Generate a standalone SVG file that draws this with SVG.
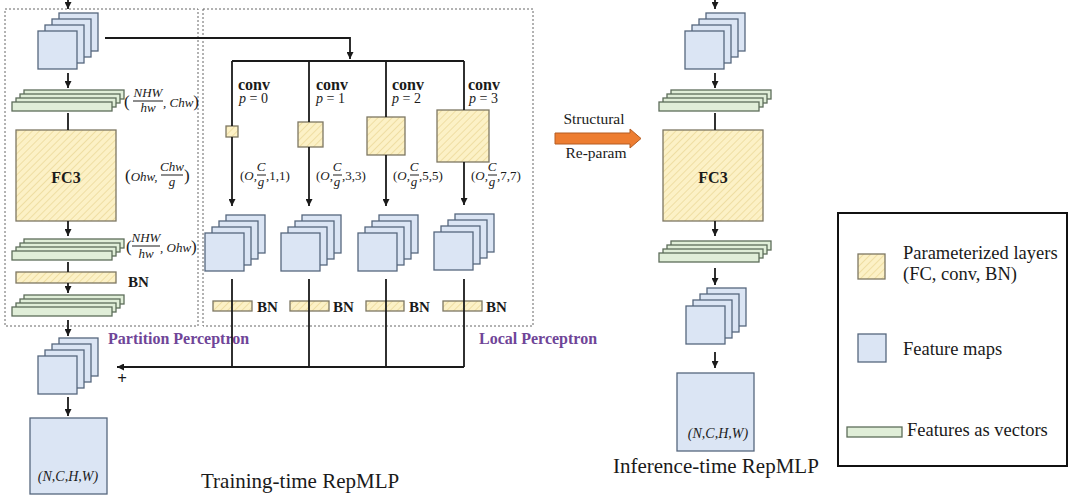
<svg xmlns="http://www.w3.org/2000/svg" width="1080" height="495" viewBox="0 0 1080 495">
<style>
text{font-family:"Liberation Serif","Times New Roman",serif;fill:#1a1a1a}
.b{font-weight:bold}
.m{font-style:italic;font-size:13px}
.up{font-style:normal}
.par{font-size:17px;font-style:normal}
.conv{font-weight:bold;font-size:16px}
.pk{font-size:14px}
.bn{font-weight:bold;font-size:15px}
.perc{font-weight:bold;font-size:16px;fill:#6f4598}
.title{font-size:21px}
.leg{font-size:18.5px}
.fm{fill:#dbe5f4;stroke:#56677e;stroke-width:1.3}
.vec{fill:#e0eed8;stroke:#5d6d5a;stroke-width:1.3}
.par-l{fill:url(#hatch);stroke:#7d7763;stroke-width:1.3}
.dash{fill:none;stroke:#666;stroke-width:1;stroke-dasharray:2,2}
.ln{fill:none;stroke:#1a1a1a;stroke-width:1.8}
.fr{stroke:#1a1a1a;stroke-width:1}
</style>
<defs>
<pattern id="hatch" patternUnits="userSpaceOnUse" width="5" height="5" patternTransform="rotate(45)">
<rect width="5" height="5" fill="#fcf1c6"/>
<line x1="0" y1="0" x2="0" y2="5" stroke="#ecd99a" stroke-width="1.6"/>
</pattern>
<marker id="ah" markerUnits="userSpaceOnUse" markerWidth="8" markerHeight="7" refX="7" refY="3.5" orient="auto">
<path d="M0,0 L7,3.5 L0,7 Z" fill="#1a1a1a"/>
</marker>
<g id="fmstack">
<rect class="fm" x="21" y="-18" width="39" height="38"/>
<rect class="fm" x="14" y="-12" width="39" height="38"/>
<rect class="fm" x="7" y="-6" width="39" height="38"/>
<rect class="fm" x="0" y="0" width="39" height="38"/>
</g>
<g id="vecstack">
<rect class="vec" x="12" y="-12" width="100" height="9"/>
<rect class="vec" x="8" y="-8" width="100" height="9"/>
<rect class="vec" x="4" y="-4" width="100" height="9"/>
<rect class="vec" x="0" y="0" width="100" height="9"/>
</g>
</defs>
<rect width="1080" height="495" fill="#ffffff"/>

<g id="partition-box"><rect class="dash" x="5" y="9" width="193" height="317"/></g>
<g id="local-box"><rect class="dash" x="203" y="9" width="330" height="317"/></g>

<!-- Training-time left column -->
<g id="input-maps"><use href="#fmstack" x="38" y="31"/></g>
<g id="vec1"><use href="#vecstack" x="12" y="102"/>
<text class="par" x="124" y="107">(</text>
<text class="m" x="148" y="97" text-anchor="middle">NHW</text>
<line class="fr" x1="133" y1="101" x2="163" y2="101"/>
<text class="m" x="148" y="112" text-anchor="middle">hw</text>
<text class="m" x="163" y="107">, Chw<tspan class="par">)</tspan></text>
</g>
<g id="fc3"><rect class="par-l" x="16" y="130" width="100" height="91"/>
<text class="b" x="66" y="183" font-size="16" text-anchor="middle">FC3</text>
<text class="m" x="125" y="181"><tspan class="par">(</tspan>Ohw,</text>
<text class="m" x="172" y="171" text-anchor="middle">Chw</text>
<line class="fr" x1="161" y1="175" x2="183" y2="175"/>
<text class="m" x="172" y="186" text-anchor="middle">g</text>
<text class="par" x="184" y="181">)</text>
</g>
<g id="vec2"><use href="#vecstack" x="12" y="251"/>
<text class="par" x="126" y="252">(</text>
<text class="m" x="146" y="242" text-anchor="middle">NHW</text>
<line class="fr" x1="132" y1="246" x2="160" y2="246"/>
<text class="m" x="146" y="258" text-anchor="middle">hw</text>
<text class="m" x="160" y="252">, Ohw<tspan class="par">)</tspan></text>
</g>
<g id="bn-left"><rect class="par-l" x="16" y="272" width="100" height="11"/>
<text class="bn" x="128" y="287">BN</text></g>
<g id="vec3"><use href="#vecstack" x="12" y="307"/></g>
<g id="sum-maps"><use href="#fmstack" x="38" y="356"/>
<text class="b" x="122" y="384" font-size="17" text-anchor="middle">+</text></g>
<g id="output-left"><rect class="fm" x="30" y="418" width="77" height="76"/>
<text class="m" x="68" y="481" text-anchor="middle" style="font-size:14px">(N,C,H,W)</text></g>
<g id="partition-label"><text class="perc" x="108" y="344">Partition Perceptron</text></g>
<g id="local-label"><text class="perc" x="479" y="344">Local Perceptron</text></g>
<g id="training-title"><text class="title" x="201" y="488">Training-time RepMLP</text></g>

<!-- conv branches -->
<g id="conv0">
<text class="conv" x="238" y="90">conv</text>
<text class="pk" x="239" y="103"><tspan font-style="italic">p</tspan> = 0</text>
<rect class="par-l" x="226" y="126" width="12" height="11"/>
<text class="m" x="240" y="180"><tspan class="up">(</tspan>O,</text>
<text class="m" x="261" y="171" text-anchor="middle">C</text>
<line class="fr" x1="257" y1="175" x2="266" y2="175"/>
<text class="m" x="261" y="186" text-anchor="middle">g</text>
<text class="m up" x="266" y="180">,1,1)</text>
</g>
<g id="conv1">
<text class="conv" x="316" y="90">conv</text>
<text class="pk" x="316" y="103"><tspan font-style="italic">p</tspan> = 1</text>
<rect class="par-l" x="298" y="122" width="25" height="25"/>
<text class="m" x="316" y="180"><tspan class="up">(</tspan>O,</text>
<text class="m" x="337" y="171" text-anchor="middle">C</text>
<line class="fr" x1="333" y1="175" x2="342" y2="175"/>
<text class="m" x="337" y="186" text-anchor="middle">g</text>
<text class="m up" x="342" y="180">,3,3)</text>
</g>
<g id="conv2">
<text class="conv" x="392" y="90">conv</text>
<text class="pk" x="392" y="103"><tspan font-style="italic">p</tspan> = 2</text>
<rect class="par-l" x="367" y="117" width="38" height="38"/>
<text class="m" x="393" y="180"><tspan class="up">(</tspan>O,</text>
<text class="m" x="414" y="171" text-anchor="middle">C</text>
<line class="fr" x1="410" y1="175" x2="419" y2="175"/>
<text class="m" x="414" y="186" text-anchor="middle">g</text>
<text class="m up" x="419" y="180">,5,5)</text>
</g>
<g id="conv3">
<text class="conv" x="468" y="90">conv</text>
<text class="pk" x="469" y="103"><tspan font-style="italic">p</tspan> = 3</text>
<rect class="par-l" x="437" y="110" width="52" height="52"/>
<text class="m" x="471" y="180"><tspan class="up">(</tspan>O,</text>
<text class="m" x="492" y="171" text-anchor="middle">C</text>
<line class="fr" x1="488" y1="175" x2="497" y2="175"/>
<text class="m" x="492" y="186" text-anchor="middle">g</text>
<text class="m up" x="497" y="180">,7,7)</text>
</g>
<g id="maps0"><use href="#fmstack" x="205" y="233"/></g>
<g id="maps1"><use href="#fmstack" x="281" y="233"/></g>
<g id="maps2"><use href="#fmstack" x="358" y="233"/></g>
<g id="maps3"><use href="#fmstack" x="434" y="232"/></g>
<g id="bn0"><rect class="par-l" x="213" y="301" width="39" height="10"/><text class="bn" x="257" y="312">BN</text></g>
<g id="bn1"><rect class="par-l" x="290" y="301" width="39" height="10"/><text class="bn" x="333" y="312">BN</text></g>
<g id="bn2"><rect class="par-l" x="366" y="301" width="38" height="10"/><text class="bn" x="409" y="312">BN</text></g>
<g id="bn3"><rect class="par-l" x="443" y="301" width="39" height="10"/><text class="bn" x="486" y="312">BN</text></g>

<!-- re-param arrow -->
<g id="reparam">
<path d="M555,133 H630 V129 L641,138.5 L630,148 V144 H555 Z" fill="#ed7d31" stroke="#b55d22" stroke-width="1"/>
<text x="594" y="124" font-size="15.5" text-anchor="middle">Structural</text>
<text x="596" y="158" font-size="15.5" text-anchor="middle">Re-param</text>
</g>

<!-- Inference-time -->
<g id="inf-input"><use href="#fmstack" x="685" y="31"/></g>
<g id="inf-vec1"><use href="#vecstack" x="659" y="102"/></g>
<g id="inf-fc3"><rect class="par-l" x="663" y="130" width="100" height="91"/>
<text class="b" x="713" y="183" font-size="16" text-anchor="middle">FC3</text></g>
<g id="inf-vec2"><use href="#vecstack" x="659" y="253"/></g>
<g id="inf-maps"><use href="#fmstack" x="686" y="306"/></g>
<g id="inf-output"><rect class="fm" x="677" y="373" width="77" height="78"/>
<text class="m" x="718" y="438" text-anchor="middle" style="font-size:14px">(N,C,H,W)</text></g>
<g id="inference-title"><text class="title" x="613" y="473">Inference-time RepMLP</text></g>

<!-- legend -->
<g id="legend">
<rect x="838" y="213" width="229" height="253" fill="none" stroke="#111" stroke-width="2"/>
<rect class="par-l" x="858" y="254" width="27" height="25"/>
<text class="leg" x="903" y="259">Parameterized layers</text>
<text class="leg" x="903" y="280">(FC, conv, BN)</text>
<rect class="fm" x="858" y="334" width="28" height="28"/>
<text class="leg" x="903" y="355">Feature maps</text>
<rect class="vec" x="847" y="427" width="55" height="10"/>
<text class="leg" x="907" y="436">Features as vectors</text>
</g>

<!-- connectors -->
<g id="connectors">
<line class="ln" x1="68" y1="0" x2="68" y2="9" marker-end="url(#ah)"/>
<line class="ln" x1="68" y1="73" x2="68" y2="88" marker-end="url(#ah)"/>
<line class="ln" x1="68" y1="113" x2="68" y2="130"/>
<line class="ln" x1="68" y1="221" x2="68" y2="236" marker-end="url(#ah)"/>
<line class="ln" x1="68" y1="262" x2="68" y2="272"/>
<line class="ln" x1="68" y1="283" x2="68" y2="293" marker-end="url(#ah)"/>
<line class="ln" x1="68" y1="320" x2="68" y2="336" marker-end="url(#ah)"/>
<line class="ln" x1="68" y1="397" x2="68" y2="416" marker-end="url(#ah)"/>
<polyline class="ln" points="105,38 350,38 350,59" marker-end="url(#ah)"/>
<line class="ln" x1="232" y1="61" x2="464" y2="61"/>
<line class="ln" x1="232" y1="61" x2="232" y2="126"/>
<line class="ln" x1="232" y1="137" x2="232" y2="206" marker-end="url(#ah)"/>
<line class="ln" x1="309" y1="61" x2="309" y2="122"/>
<line class="ln" x1="309" y1="147" x2="309" y2="206" marker-end="url(#ah)"/>
<line class="ln" x1="386" y1="61" x2="386" y2="117"/>
<line class="ln" x1="386" y1="155" x2="386" y2="206" marker-end="url(#ah)"/>
<line class="ln" x1="464" y1="61" x2="464" y2="110"/>
<line class="ln" x1="464" y1="162" x2="464" y2="205" marker-end="url(#ah)"/>
<line class="ln" x1="232" y1="279" x2="232" y2="367"/>
<line class="ln" x1="309" y1="279" x2="309" y2="367"/>
<line class="ln" x1="386" y1="279" x2="386" y2="367"/>
<line class="ln" x1="464" y1="279" x2="464" y2="367"/>
<line class="ln" x1="464" y1="367" x2="117" y2="367" marker-end="url(#ah)"/>
<line class="ln" x1="715" y1="0" x2="715" y2="9" marker-end="url(#ah)"/>
<line class="ln" x1="715" y1="73" x2="715" y2="88" marker-end="url(#ah)"/>
<line class="ln" x1="715" y1="113" x2="715" y2="130"/>
<line class="ln" x1="715" y1="221" x2="715" y2="236" marker-end="url(#ah)"/>
<line class="ln" x1="715" y1="268" x2="715" y2="285" marker-end="url(#ah)"/>
<line class="ln" x1="715" y1="352" x2="715" y2="368" marker-end="url(#ah)"/>
</g>
</svg>
